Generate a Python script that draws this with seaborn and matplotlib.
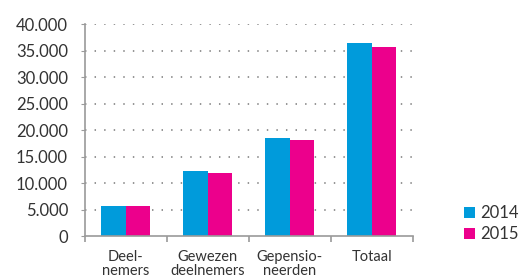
import pandas as pd
import matplotlib.pyplot as plt
import matplotlib.ticker as mticker
import seaborn as sns

categories = ["Deel-\nnemers", "Gewezen\ndeelnemers", "Gepensio-\nneerden", "Totaal"]
years = ["2014", "2015"]
values_2014 = [5700, 12250, 18500, 36450]
values_2015 = [5700, 11900, 18100, 35700]
y_ticks = [0, 5000, 10000, 15000, 20000, 25000, 30000, 35000, 40000]

df = pd.DataFrame({
    "categorie": categories * 2,
    "jaar": [years[0]] * 4 + [years[1]] * 4,
    "aantal": values_2014 + values_2015,
})

sns.set_style("white")
plt.rcParams["font.family"] = ["Lato", "DejaVu Sans"]

fig = plt.figure(figsize=(5.2, 2.8), dpi=100)
ax = fig.add_axes([0.163, 0.157, 0.631, 0.757])

sns.barplot(data=df, x="categorie", y="aantal", hue="jaar",
            palette=["#009bdb", "#ec008c"], width=0.6, gap=0,
            saturation=1, linewidth=0, ax=ax, legend=True)

ax.set_xlim(-0.5, 3.5)
ax.set_ylim(0, 40000)
ax.set_yticks(y_ticks)
ax.yaxis.set_major_formatter(mticker.FuncFormatter(
    lambda v, p: "0" if v == 0 else f"{int(v):,}".replace(",", ".")))
ax.set_xlabel("")
ax.set_ylabel("")

for y in y_ticks[1:]:
    ax.axhline(y, color="#8c8c8c", lw=1.3, ls=(0, (0.8, 4.5)), zorder=0)

for s in ["top", "right"]:
    ax.spines[s].set_visible(False)
for s in ["left", "bottom"]:
    ax.spines[s].set_color("#9a9a9a")
    ax.spines[s].set_linewidth(1.2)

ax.tick_params(axis="y", length=3, color="#9a9a9a", labelsize=12,
               labelcolor="#333333", pad=9, left=True)
ax.tick_params(axis="x", which="major", length=0, labelsize=10.5,
               labelcolor="#333333", pad=10)
ax.set_xticks([-0.5, 0.5, 1.5, 2.5, 3.5], minor=True)
ax.tick_params(axis="x", which="minor", length=4, color="#9a9a9a",
               width=1.2, bottom=True)
for lbl in ax.get_xticklabels():
    lbl.set_linespacing(1.0)

ax.legend(loc="lower left", bbox_to_anchor=(1.11, -0.1), frameon=False,
          handlelength=0.65, handleheight=0.65, handletextpad=0.35,
          labelspacing=0.3, fontsize=12, labelcolor="#333333")

fig.savefig("out.png", dpi=100)
